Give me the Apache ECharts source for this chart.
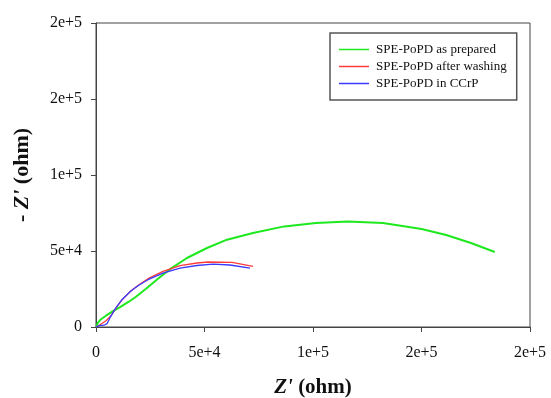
<!DOCTYPE html>
<html>
<head>
<meta charset="utf-8">
<script src="https://cdn.jsdelivr.net/npm/echarts@6/dist/echarts.min.js"></script>
<style>
html,body{margin:0;padding:0;background:#fff;}
#chart{width:551px;height:398px;}
</style>
</head>
<body>
<div id="chart"></div>
<script>
const seriesNames = ['SPE-PoPD as prepared', 'SPE-PoPD after washing', 'SPE-PoPD in CCrP'];
const asPrepared = [
  [0,0],[920,2830],[2300,5130],[4600,7430],[7830,10400],[11060,13030],[14750,16300],
  [18430,19930],[23040,25200],[28570,31780],[34100,38030],[41930,45400],[51150,51970],
  [60370,57440],[72350,61840],[86770,66190],[101380,68420],[115980,69470],[132250,68420],
  [150040,64470],[161370,60530],[172800,55260],[183770,49340]
];
const afterWashing = [
  [0,0],[1840,1510],[4610,4150],[6910,7430],[9680,13360],[12440,18620],[16130,23880],
  [19810,27830],[23960,31780],[30870,36580],[38710,40330],[46540,42110],[51610,42760],
  [62670,42500],[72350,39870]
];
const inCCrP = [
  [0,0],[1380,860],[3690,1180],[5070,2170],[6450,6120],[9220,12700],[11980,17960],
  [15670,23220],[19350,27170],[23960,31120],[30870,35400],[38710,38690],[46540,40460],
  [53910,41320],[61750,40790],[70960,38690]
];
const xTickLabels = ['0', '5e+4', '1e+5', '2e+5', '2e+5'];
const yTickLabels = ['0', '5e+4', '1e+5', '2e+5', '2e+5'];
const tickStep = 50000;

const serif = 'Liberation Serif';
const colors = ['#1ee81e', '#ff3b3b', '#3b3bff'];
const chart = echarts.init(document.getElementById('chart'), null, {renderer: 'canvas'});
chart.setOption({
  animation: false,
  backgroundColor: '#fff',
  grid: {left: 96, right: 21, top: 23, bottom: 71, show: true, borderColor: '#444', borderWidth: 1,
    containLabel: false, outerBoundsMode: 'none'},
  legend: {
    orient: 'vertical', left: 330, top: 33,
    padding: [10, 10, 10, 9], itemGap: 4, itemWidth: 30, itemHeight: 1.5,
    icon: 'rect',
    borderColor: '#555', borderWidth: 1.5, backgroundColor: '#fff',
    textStyle: {fontFamily: serif, fontSize: 13, color: '#111', lineHeight: 13, padding: [0, 0, 0, 2]},
    data: seriesNames
  },
  xAxis: {
    type: 'value', min: 0, max: 200000, interval: tickStep,
    name: "{i|Z'} (ohm)", nameLocation: 'middle', nameGap: 50,
    nameTextStyle: {fontFamily: serif, fontSize: 21, fontWeight: 'bold', color: '#111',
      rich: {i: {fontFamily: serif, fontSize: 21, fontWeight: 'bold', fontStyle: 'italic', color: '#111'}}},
    axisLine: {show: true, lineStyle: {color: '#444', width: 1}},
    axisTick: {show: true, length: 5, lineStyle: {color: '#444'}},
    splitLine: {show: false},
    axisLabel: {fontFamily: serif, fontSize: 16, color: '#111', margin: 18,
      formatter: v => xTickLabels[Math.round(v / tickStep)]}
  },
  yAxis: {
    type: 'value', min: 0, max: 200000, interval: tickStep,
    name: "- {i|Z'} (ohm)", nameLocation: 'middle', nameGap: 63,
    nameTextStyle: {fontFamily: serif, fontSize: 22, fontWeight: 'bold', color: '#111',
      rich: {i: {fontFamily: serif, fontSize: 22, fontWeight: 'bold', fontStyle: 'italic', color: '#111'}}},
    axisLine: {show: true, lineStyle: {color: '#444', width: 1}},
    axisTick: {show: true, length: 5, lineStyle: {color: '#444'}},
    splitLine: {show: false},
    axisLabel: {fontFamily: serif, fontSize: 16, color: '#111', margin: 14,
      formatter: v => yTickLabels[Math.round(v / tickStep)]}
  },
  series: [
    {name: seriesNames[0], type: 'line', data: asPrepared, symbol: 'none', smooth: false,
      lineStyle: {color: colors[0], width: 2}, itemStyle: {color: colors[0]}},
    {name: seriesNames[1], type: 'line', data: afterWashing, symbol: 'none', smooth: false,
      lineStyle: {color: colors[1], width: 1.3}, itemStyle: {color: colors[1]}},
    {name: seriesNames[2], type: 'line', data: inCCrP, symbol: 'none', smooth: false,
      lineStyle: {color: colors[2], width: 1.3}, itemStyle: {color: colors[2]}}
  ]
});
</script>
</body>
</html>
